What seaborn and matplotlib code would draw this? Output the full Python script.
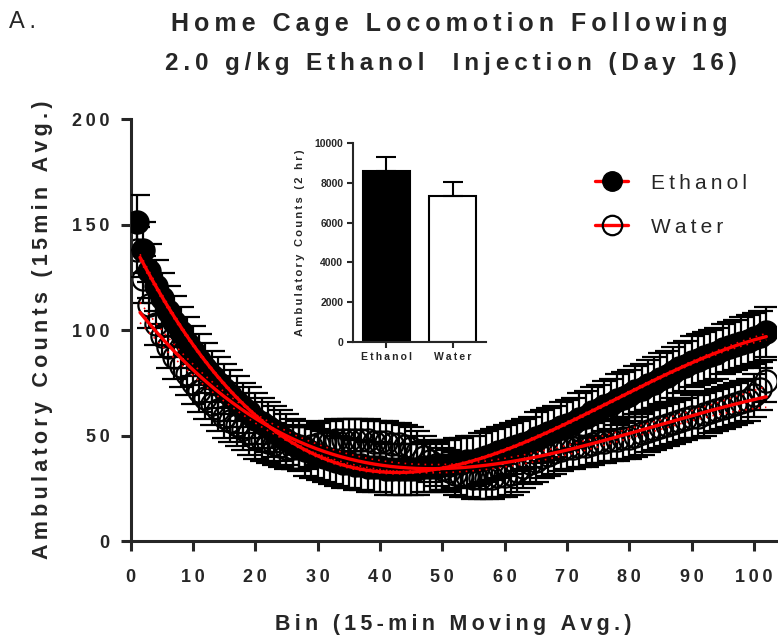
import matplotlib
matplotlib.use("Agg")
import matplotlib.pyplot as plt
from matplotlib.lines import Line2D
import seaborn as sns
import pandas as pd
import numpy as np

sns.set_style("ticks")
plt.rcParams["font.family"] = ["Liberation Sans", "DejaVu Sans"]

# Данные (оценка по картинке)
ethanol = [151, 138, 128, 121, 115, 109, 104, 99, 94, 90,
           86, 82, 78, 75, 72, 69, 66, 63, 61, 58,
           56, 54, 52, 50, 48, 46, 45, 43, 42, 41,
           40, 39, 38, 37, 37, 36, 36, 35, 35, 35,
           34, 34, 34, 34, 34, 34, 35, 35, 35, 36,
           36, 37, 37, 38, 38, 39, 40, 41, 42, 43,
           44, 45, 46, 47, 49, 50, 51, 52, 54, 55,
           56, 58, 59, 61, 62, 64, 65, 67, 68, 69,
           71, 72, 74, 75, 77, 78, 80, 82, 83, 85,
           86, 87, 88, 89, 91, 92, 93, 94, 95, 96,
           97, 99]
water = [138, 124, 112, 103, 97, 92, 87, 83, 79, 75,
         71, 68, 65, 62, 59, 57, 55, 53, 51, 49,
         48, 47, 46, 45, 44, 44, 44, 44, 45, 46,
         47, 47, 48, 48, 48, 48, 48, 48, 47, 47,
         47, 46, 46, 45, 44, 42, 40, 38, 36, 34,
         33, 32, 31, 31, 30, 30, 30, 30, 31, 31,
         32, 33, 35, 37, 38, 40, 41, 42, 43, 44,
         44, 45, 45, 46, 47, 47, 48, 48, 49, 49,
         50, 51, 52, 53, 54, 55, 56, 57, 58, 59,
         59, 60, 61, 62, 63, 64, 65, 66, 67, 69,
         72, 76]
eth_sem = [13] * 3 + [12] * 99
wat_sem = [11] * 3 + [10] * 99
bins = list(range(1, len(ethanol) + 1))

groups = ["Ethanol", "Water"]
totals = [8600, 7340]
totals_sem = [700, 680]


def spaced(s):
    return "\u2009".join(s)


def poly_fit(x, y, order=3):
    x = np.asarray(x, float)
    y = np.asarray(y, float)
    coef = np.polyfit(x, y, order)
    xs = np.linspace(x[0] + 0.5, x[-1], 300)
    X = np.vander(x, order + 1)
    resid = y - np.polyval(coef, x)
    s = np.sqrt(np.sum(resid ** 2) / (len(x) - order - 1))
    XtX_inv = np.linalg.inv(X.T @ X)
    Xs = np.vander(xs, order + 1)
    lev = np.einsum("ij,jk,ik->i", Xs, XtX_inv, Xs)
    band = 1.98 * s * np.sqrt(lev)
    ys = np.polyval(coef, xs)
    return xs, ys, ys - band, ys + band


fig = plt.figure(figsize=(7.78, 6.37), dpi=100)
ax = fig.add_axes([0.168, 0.1507, 0.829, 0.6623])

ax.errorbar(bins, water, yerr=wat_sem, fmt="o", ms=16, mfc="none", mec="black",
            mew=1.6, ecolor="black", elinewidth=1.6, capsize=9, capthick=1.6, zorder=2)
ax.errorbar(bins, ethanol, yerr=eth_sem, fmt="o", ms=16, mfc="black", mec="black",
            mew=1.6, ecolor="black", elinewidth=1.6, capsize=9, capthick=1.6, zorder=3)

for y in [ethanol, water]:
    xs, ys, lo, hi = poly_fit(bins, y)
    ax.plot(xs, ys, color="red", lw=2.4, zorder=5)
    ax.plot(xs, lo, color="red", lw=1.2, ls=(0, (1, 3)), zorder=5)
    ax.plot(xs, hi, color="red", lw=1.2, ls=(0, (1, 3)), zorder=5)

ax.set_xlim(0, 103.5)
ax.set_ylim(0, 200)
ax.set_xticks(range(0, 101, 10))
ax.set_yticks(range(0, 201, 50))
ax.set_xticklabels([spaced(str(v)) for v in range(0, 101, 10)], fontsize=13, fontweight="bold")
ax.set_yticklabels([spaced(str(v)) for v in range(0, 201, 50)], fontsize=13, fontweight="bold")
sns.despine(ax=ax)
for sp in ["left", "bottom"]:
    ax.spines[sp].set_linewidth(2.2)
ax.tick_params(width=2.2, length=7)
ax.tick_params(axis="x", pad=13)
ax.tick_params(axis="y", pad=8)
ax.set_xlabel(spaced("Bin (15-min Moving Avg.)"), fontsize=15.5, fontweight="bold", labelpad=20)
ax.set_ylabel(spaced("Ambulatory Counts (15min Avg.)"), fontsize=15.5, fontweight="bold", labelpad=14)

handles = [
    Line2D([], [], color="red", lw=2.4, marker="o", ms=14, mfc="black", mec="black"),
    Line2D([], [], color="red", lw=2.4, marker="o", ms=14, mfc="none", mec="black", mew=1.6),
]
leg = ax.legend(handles, [spaced("Ethanol"), spaced("Water")], loc="upper right",
                bbox_to_anchor=(0.985, 0.915), frameon=False, fontsize=15,
                handlelength=1.6, labelspacing=1.2, handletextpad=1.1)

fig.text(0.578, 0.963, spaced("Home Cage Locomotion Following"), ha="center", va="center",
         fontsize=18, fontweight="bold")
fig.text(0.58, 0.9, spaced("2.0 g/kg Ethanol  Injection (Day 16)"), ha="center", va="center",
         fontsize=17.5, fontweight="bold")
fig.text(0.012, 0.965, spaced("A."), ha="left", va="center", fontsize=17)

# Вставка: столбцы
ins = fig.add_axes([0.4537, 0.463, 0.171, 0.3124])
df_tot = pd.DataFrame({"group": groups, "total": totals})
sns.barplot(data=df_tot, x="group", y="total", hue="group",
            palette={"Ethanol": "black", "Water": "white"}, edgecolor="black",
            linewidth=1.5, width=0.7, legend=False, ax=ins, errorbar=None)
ins.errorbar([0, 1], totals, yerr=[[0, 0], totals_sem], fmt="none", ecolor="black",
             elinewidth=1.5, capsize=7, capthick=1.5)
ins.set_ylim(0, 10000)
ins.set_yticks(range(0, 10001, 2000))
ins.set_yticklabels([str(v) for v in range(0, 10001, 2000)], fontsize=7.5, fontweight="bold")
ins.set_xticks([0, 1])
ins.set_xticklabels([spaced("Ethanol"), spaced("Water")], fontsize=7.5, fontweight="bold")
ins.set_xlim(-0.5, 1.5)
ins.set_xlabel("")
ins.set_ylabel(spaced("Ambulatory Counts (2 hr)"), fontsize=8, fontweight="bold", labelpad=7)
sns.despine(ax=ins)
for sp in ["left", "bottom"]:
    ins.spines[sp].set_linewidth(1.5)
ins.tick_params(width=1.5, length=4, pad=3)

fig.savefig("out.png", dpi=100)
